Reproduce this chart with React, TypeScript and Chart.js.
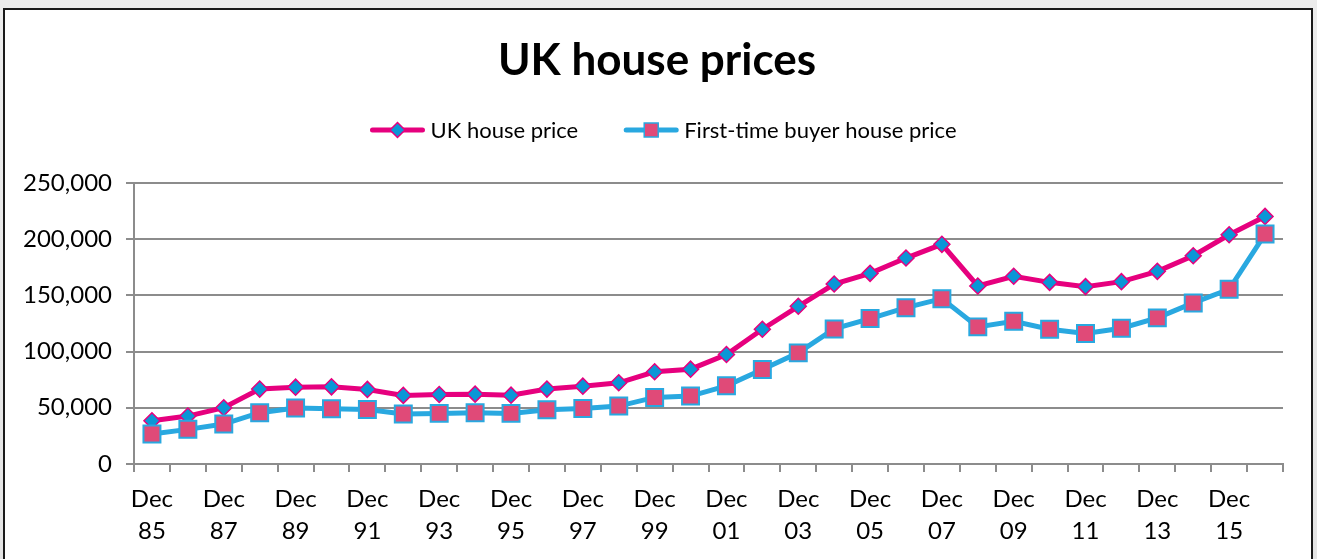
import React, { useEffect, useRef } from "react";
import { Chart, registerables } from "chart.js";

Chart.register(...registerables);

const categories = [
  "Dec 85", "Dec 86", "Dec 87", "Dec 88", "Dec 89", "Dec 90", "Dec 91", "Dec 92",
  "Dec 93", "Dec 94", "Dec 95", "Dec 96", "Dec 97", "Dec 98", "Dec 99", "Dec 00",
  "Dec 01", "Dec 02", "Dec 03", "Dec 04", "Dec 05", "Dec 06", "Dec 07", "Dec 08",
  "Dec 09", "Dec 10", "Dec 11", "Dec 12", "Dec 13", "Dec 14", "Dec 15", "Dec 16",
];

const ukHousePrice = [
  38500, 42600, 50000, 66600, 68300, 68600, 66300, 61000,
  61800, 62100, 61200, 66600, 69200, 72200, 82000, 84300,
  97300, 119800, 140200, 160000, 169500, 183100, 195300, 158300,
  166900, 161500, 157700, 162100, 171300, 185200, 203800, 220100,
];

const firstTimeBuyerPrice = [
  26600, 30800, 35500, 45600, 49700, 49100, 48500, 44400,
  45000, 45600, 45000, 48200, 49400, 51500, 59200, 60400,
  69500, 84000, 98800, 120100, 129300, 139000, 147000, 121900,
  126900, 119800, 116000, 120700, 129900, 143200, 155300, 204400,
];

const seriesNames = ["UK house price", "First-time buyer house price"];
const yTickValues = [0, 50000, 100000, 150000, 200000, 250000];

const UK_LINE = "#E6007E";
const UK_FILL = "#0A96D6";
const FTB_LINE = "#29A8E0";
const FTB_FILL = "#E04A78";
const GRID = "#8c8c8c";
const FONT = "Lato, 'Open Sans', sans-serif";

function drawMarker(ctx: CanvasRenderingContext2D, kind: string, x: number, y: number, half: number, fill: string, stroke: string, bw: number) {
  ctx.save();
  ctx.beginPath();
  if (kind === "diamond") {
    ctx.moveTo(x, y - half);
    ctx.lineTo(x + half, y);
    ctx.lineTo(x, y + half);
    ctx.lineTo(x - half, y);
    ctx.closePath();
  } else {
    ctx.rect(x - half, y - half, half * 2, half * 2);
  }
  ctx.fillStyle = fill;
  ctx.fill();
  ctx.lineWidth = bw;
  ctx.strokeStyle = stroke;
  ctx.stroke();
  ctx.restore();
}

const legendPlugin = {
  id: "lineMarkerLegend",
  afterDraw(chart: any) {
    const ctx: CanvasRenderingContext2D = chart.ctx;
    ctx.save();
    ctx.font = `22px ${FONT}`;
    const symW = 56;
    const gapText = 5;
    const gapItems = 45;
    const items = [
      { text: seriesNames[0], line: UK_LINE, fill: UK_FILL, kind: "diamond", half: 7.5 },
      { text: seriesNames[1], line: FTB_LINE, fill: FTB_FILL, kind: "square", half: 7 },
    ];
    const widths = items.map((it) => symW + gapText + ctx.measureText(it.text).width);
    const total = widths.reduce((a, b) => a + b, 0) + gapItems * (items.length - 1);
    let x = 663 - total / 2;
    const y = 130;
    items.forEach((it, i) => {
      ctx.beginPath();
      ctx.strokeStyle = it.line;
      ctx.lineWidth = 5;
      ctx.lineCap = "round";
      ctx.moveTo(x + 3, y);
      ctx.lineTo(x + symW - 3, y);
      ctx.stroke();
      drawMarker(ctx, it.kind, x + symW / 2, y, it.half, it.fill, it.line, 1.5);
      ctx.fillStyle = "#000";
      ctx.textAlign = "left";
      ctx.textBaseline = "middle";
      ctx.fillText(it.text, x + symW + gapText, y + 1);
      x += widths[i] + gapItems;
    });
    ctx.restore();
  },
};

export default function App() {
  const canvasRef = useRef<HTMLCanvasElement | null>(null);

  useEffect(() => {
    const canvas = canvasRef.current;
    if (!canvas) return;
    const chart = new Chart(canvas, {
      type: "line",
      data: {
        labels: categories,
        datasets: [
          {
            label: seriesNames[0],
            data: ukHousePrice,
            borderColor: UK_LINE,
            backgroundColor: UK_FILL,
            borderWidth: 5,
            pointStyle: "rectRot",
            pointRadius: 8,
            pointBackgroundColor: UK_FILL,
            pointBorderColor: UK_LINE,
            pointBorderWidth: 1.5,
            tension: 0,
            order: 1,
          },
          {
            label: seriesNames[1],
            data: firstTimeBuyerPrice,
            borderColor: FTB_LINE,
            backgroundColor: FTB_FILL,
            borderWidth: 5,
            pointStyle: "rect",
            pointRadius: 12,
            pointBackgroundColor: FTB_FILL,
            pointBorderColor: FTB_LINE,
            pointBorderWidth: 2,
            tension: 0,
            order: 0,
          },
        ],
      },
      options: {
        responsive: false,
        animation: false,
        events: [],
        layout: { padding: { left: 0, right: 3, top: 0, bottom: 10 } },
        plugins: {
          legend: { display: false },
          tooltip: { enabled: false },
          title: {
            display: true,
            text: "UK house prices",
            color: "#000",
            font: { family: FONT, size: 44, weight: "bold", lineHeight: 1.2 },
            padding: { top: 34, bottom: 96 },
          },
        },
        scales: {
          x: {
            type: "category",
            offset: true,
            grid: {
              offset: true,
              drawOnChartArea: false,
              drawTicks: true,
              tickLength: 8,
              color: GRID,
              lineWidth: 2,
            },
            border: { color: GRID, width: 2 },
            ticks: {
              autoSkip: false,
              maxRotation: 0,
              minRotation: 0,
              padding: 11,
              color: "#000",
              font: { family: FONT, size: 24, lineHeight: 1.33 },
              callback: (_v: any, i: number) =>
                i % 2 === 0 ? ["Dec", categories[i].slice(4)] : "",
            },
            afterFit: (s: any) => {
              s.height = 85;
            },
          },
          y: {
            min: 0,
            max: 250000,
            afterBuildTicks: (s: any) => {
              s.ticks = yTickValues.map((v) => ({ value: v }));
            },
            grid: { color: GRID, lineWidth: 2, tickLength: 8 },
            border: { color: GRID, width: 2 },
            ticks: {
              padding: 14,
              color: "#000",
              font: { family: FONT, size: 24 },
              callback: (v: any) => Number(v).toLocaleString("en-US"),
            },
            afterFit: (s: any) => {
              s.width = 134;
            },
          },
          spacer: {
            type: "linear",
            position: "right",
            display: true,
            min: 0,
            max: 1,
            grid: { display: false, drawOnChartArea: false },
            border: { display: false },
            ticks: { display: false },
            afterFit: (s: any) => {
              s.width = 31;
            },
          },
        },
      },
      plugins: [legendPlugin],
    } as any);
    return () => chart.destroy();
  }, []);

  return (
    <div
      style={{
        position: "absolute",
        left: 0,
        top: 0,
        width: 1317,
        height: 559,
        overflow: "hidden",
        background: "linear-gradient(#ececec, #e4e4e4)",
      }}
    >
      <div
        style={{
          position: "absolute",
          left: 3,
          top: 8,
          width: 1306,
          height: 620,
          border: "2px solid #1a1a1a",
          background: "#fff",
        }}
      />
      <canvas
        ref={canvasRef}
        width={1317}
        height={559}
        style={{ position: "absolute", left: 0, top: 0, display: "block" }}
      />
    </div>
  );
}
